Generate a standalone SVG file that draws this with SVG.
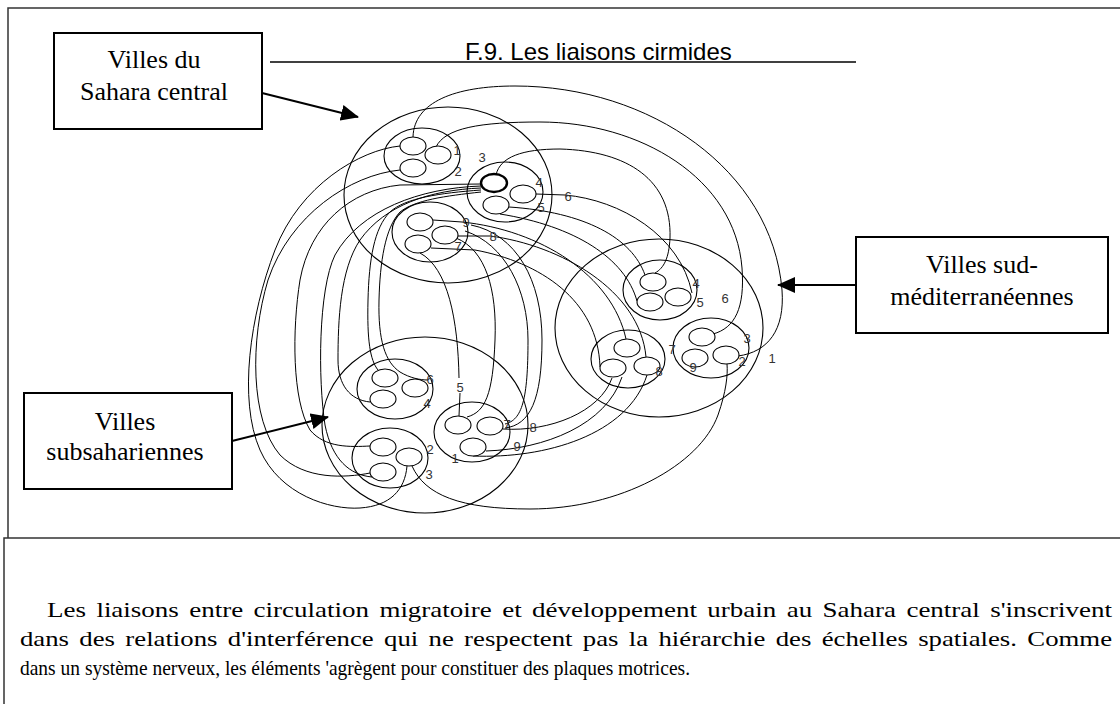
<svg xmlns="http://www.w3.org/2000/svg" width="1120" height="704" viewBox="0 0 1120 704">
<style>
.frame{fill:none;stroke:#333;stroke-width:1.5}
.box{fill:#fff;stroke:#000;stroke-width:2}
.big{fill:none;stroke:#000;stroke-width:1.1}
.sm{fill:none;stroke:#000;stroke-width:1.1}
.el{fill:#fff;stroke:#000;stroke-width:1.1}
.thick{fill:#fff;stroke:#000;stroke-width:2.4}
.c{fill:none;stroke:#000;stroke-width:1}
.arr{fill:none;stroke:#000;stroke-width:2}
.lbl{font-family:"Liberation Sans",Arial,sans-serif;font-size:13px;fill:#333;text-anchor:middle}
.bt{font-family:"Liberation Serif","Times New Roman",serif;font-size:26px;fill:#000;text-anchor:middle}
.title{font-family:"Liberation Sans",Arial,sans-serif;font-size:24px;fill:#000}
.para{font-family:"Liberation Serif","Times New Roman",serif;font-size:22px;fill:#000}
</style>
<defs>
<marker id="ah" markerUnits="userSpaceOnUse" markerWidth="18" markerHeight="16" refX="17" refY="8" orient="auto">
<path d="M0,0 L18,8 L0,16 z" fill="#000"/>
</marker>
</defs>
<rect x="0" y="0" width="1120" height="704" fill="#fff"/>
<g id="frame">
<path class="frame" d="M8,538 L8,8 L1120,8"/>
<path class="frame" d="M4,704 L4,538 L1120,538"/>
</g>
<g id="title">
<text class="title" x="465" y="60">F.9. Les liaisons cirmides</text>
<line x1="270" y1="62" x2="856" y2="62" stroke="#000" stroke-width="1.3"/>
</g>
<g id="connectors">
<path class="c" d="M413,137 C414,102 455,86 515,86 C650,86 772,170 782,290 C785,330 768,352 738,356"/>
<path class="c" d="M436,147 C445,128 480,122 540,122 C640,122 735,178 742,268 C745,308 735,328 713,334"/>
<path class="c" d="M496,175 C500,157 522,149 560,149 C628,151 672,180 670,238 C669,258 664,268 655,273"/>
<path class="c" d="M536,194 L565,195 C620,200 680,235 692,293"/>
<path class="c" d="M509,207 C585,212 632,238 645,275"/>
<path class="c" d="M500,214 C575,226 625,258 637,301"/>
<path class="c" d="M433,220 L462,222 C540,230 612,275 626,339"/>
<path class="c" d="M458,236 L490,236 C560,245 640,290 646,357"/>
<path class="c" d="M431,248 L475,250 C540,262 598,300 600,367"/>
<path class="c" d="M420,253 C448,268 458,320 459,378 M460,393 L459,416"/>
<path class="c" d="M456,238 C486,250 497,290 495,340 C493,395 485,412 467,417"/>
<path class="c" d="M465,231 C505,244 528,290 528,340 C528,400 522,420 505,424"/>
<path class="c" d="M471,225 C516,234 542,280 542,340 C542,400 530,425 505,428"/>
<path class="c" d="M400,146 C360,150 300,185 275,250 C250,315 238,400 260,450 C280,495 330,510 360,508 C390,506 405,490 407,466"/>
<path class="c" d="M400,170 C350,175 290,215 268,280 C250,340 250,420 280,455 C305,480 345,478 370,473"/>
<path class="c" d="M481,184 L400,185 C350,190 310,225 300,280 C292,330 292,400 310,430 C325,448 350,447 370,446"/>
<path class="c" d="M481,186 C420,188 360,210 335,255 C318,290 318,380 325,425 C332,460 350,475 372,477"/>
<path class="c" d="M481,188 C430,190 385,205 360,240 C340,270 338,320 338,360 C338,385 350,400 370,402"/>
<path class="c" d="M481,190 C440,193 405,198 390,212 C374,228 369,260 368,300 C367,340 370,360 378,370"/>
<path class="c" d="M481,192 C445,196 415,200 400,212 C385,228 380,262 379,300 C378,340 385,362 400,372 C410,378 420,380 428,380"/>
<path class="c" d="M412,466 C425,495 460,509 530,509 C620,509 700,465 718,415 C726,392 728,375 727,364"/>
<path class="c" d="M503,429 C550,432 600,412 612,378"/>
<path class="c" d="M486,451 C545,449 606,425 622,377"/>
<path class="c" d="M473,456 C545,459 628,435 647,375"/>
</g>
<g id="sahara-central">
<ellipse class="big" cx="448" cy="195" rx="104" ry="88"/>
<ellipse class="sm" cx="422" cy="156" rx="38" ry="28"/>
<ellipse class="el" cx="413" cy="146" rx="13" ry="9"/>
<ellipse class="el" cx="438" cy="155" rx="13" ry="9"/>
<ellipse class="el" cx="413" cy="168" rx="13" ry="9"/>
<ellipse class="sm" cx="505" cy="192" rx="38" ry="30"/>
<ellipse class="thick" cx="494" cy="183" rx="13" ry="9"/>
<ellipse class="el" cx="523" cy="194" rx="13" ry="9"/>
<ellipse class="el" cx="496" cy="205" rx="13" ry="9"/>
<ellipse class="sm" cx="430" cy="232" rx="38" ry="30"/>
<ellipse class="el" cx="420" cy="222" rx="13" ry="9"/>
<ellipse class="el" cx="445" cy="235" rx="13" ry="9"/>
<ellipse class="el" cx="418" cy="244" rx="13" ry="9"/>
<text class="lbl" x="457" y="155">1</text>
<text class="lbl" x="458" y="176">2</text>
<text class="lbl" x="482" y="162">3</text>
<text class="lbl" x="539" y="187">4</text>
<text class="lbl" x="541" y="212">5</text>
<text class="lbl" x="568" y="201">6</text>
<text class="lbl" x="466" y="227">9</text>
<text class="lbl" x="493" y="241">8</text>
<text class="lbl" x="458" y="251">7</text>
</g>
<g id="sud-mediterraneennes">
<ellipse class="big" cx="659" cy="328" rx="104" ry="89"/>
<ellipse class="sm" cx="660" cy="290" rx="37" ry="30"/>
<ellipse class="el" cx="653" cy="282" rx="13" ry="9"/>
<ellipse class="el" cx="650" cy="302" rx="13" ry="9"/>
<ellipse class="el" cx="678" cy="297" rx="13" ry="9"/>
<ellipse class="sm" cx="711" cy="348" rx="38" ry="30"/>
<ellipse class="el" cx="702" cy="337" rx="13" ry="9"/>
<ellipse class="el" cx="695" cy="358" rx="13" ry="9"/>
<ellipse class="el" cx="726" cy="355" rx="13" ry="9"/>
<ellipse class="sm" cx="628" cy="359" rx="37" ry="29"/>
<ellipse class="el" cx="627" cy="348" rx="13" ry="9"/>
<ellipse class="el" cx="613" cy="368" rx="13" ry="9"/>
<ellipse class="el" cx="647" cy="366" rx="13" ry="9"/>
<text class="lbl" x="696" y="288">4</text>
<text class="lbl" x="700" y="307">5</text>
<text class="lbl" x="725" y="303">6</text>
<text class="lbl" x="747" y="343">3</text>
<text class="lbl" x="742" y="366">2</text>
<text class="lbl" x="693" y="372">9</text>
<text class="lbl" x="772" y="363">1</text>
<text class="lbl" x="672" y="354">7</text>
<text class="lbl" x="659" y="376">8</text>
</g>
<g id="subsahariennes">
<ellipse class="big" cx="425" cy="425" rx="103" ry="88"/>
<ellipse class="sm" cx="395" cy="389" rx="38" ry="30"/>
<ellipse class="el" cx="385" cy="378" rx="13" ry="9"/>
<ellipse class="el" cx="415" cy="388" rx="13" ry="9"/>
<ellipse class="el" cx="383" cy="399" rx="13" ry="9"/>
<ellipse class="sm" cx="472" cy="432" rx="38" ry="30"/>
<ellipse class="el" cx="458" cy="425" rx="13" ry="9"/>
<ellipse class="el" cx="490" cy="426" rx="13" ry="9"/>
<ellipse class="el" cx="473" cy="447" rx="13" ry="9"/>
<ellipse class="sm" cx="390" cy="458" rx="38" ry="30"/>
<ellipse class="el" cx="383" cy="447" rx="13" ry="9"/>
<ellipse class="el" cx="409" cy="457" rx="13" ry="9"/>
<ellipse class="el" cx="383" cy="472" rx="13" ry="9"/>
<text class="lbl" x="430" y="384">6</text>
<text class="lbl" x="427" y="408">4</text>
<text class="lbl" x="460" y="392">5</text>
<text class="lbl" x="507" y="429">7</text>
<text class="lbl" x="533" y="432">8</text>
<text class="lbl" x="517" y="451">9</text>
<text class="lbl" x="455" y="463">1</text>
<text class="lbl" x="430" y="454">2</text>
<text class="lbl" x="429" y="479">3</text>
</g>
<g id="label-sahara">
<rect class="box" x="54" y="33" width="208" height="96"/>
<text class="bt" x="154" y="68">Villes du</text>
<text class="bt" x="154" y="100">Sahara central</text>
<line class="arr" x1="262" y1="93" x2="358" y2="117" marker-end="url(#ah)"/>
</g>
<g id="label-sud">
<rect class="box" x="856" y="237" width="252" height="96"/>
<text class="bt" x="982" y="273">Villes sud-</text>
<text class="bt" x="982" y="305">méditerranéennes</text>
<line class="arr" x1="856" y1="285" x2="778" y2="285" marker-end="url(#ah)"/>
</g>
<g id="label-sub">
<rect class="box" x="24" y="393" width="208" height="96"/>
<text class="bt" x="125" y="430">Villes</text>
<text class="bt" x="125" y="460">subsahariennes</text>
<line class="arr" x1="232" y1="441" x2="328" y2="417" marker-end="url(#ah)"/>
</g>
<g id="caption">
<text class="para" x="47" y="617" word-spacing="3" textLength="1065" lengthAdjust="spacingAndGlyphs">Les liaisons entre circulation migratoire et développement urbain au Sahara central s'inscrivent</text>
<text class="para" x="20" y="646" word-spacing="3" textLength="1092" lengthAdjust="spacingAndGlyphs">dans des relations d'interférence qui ne respectent pas la hiérarchie des échelles spatiales. Comme</text>
<text class="para" x="20" y="675" textLength="670" lengthAdjust="spacingAndGlyphs">dans un système nerveux, les éléments 'agrègent pour constituer des plaques motrices.</text>
</g>
</svg>
